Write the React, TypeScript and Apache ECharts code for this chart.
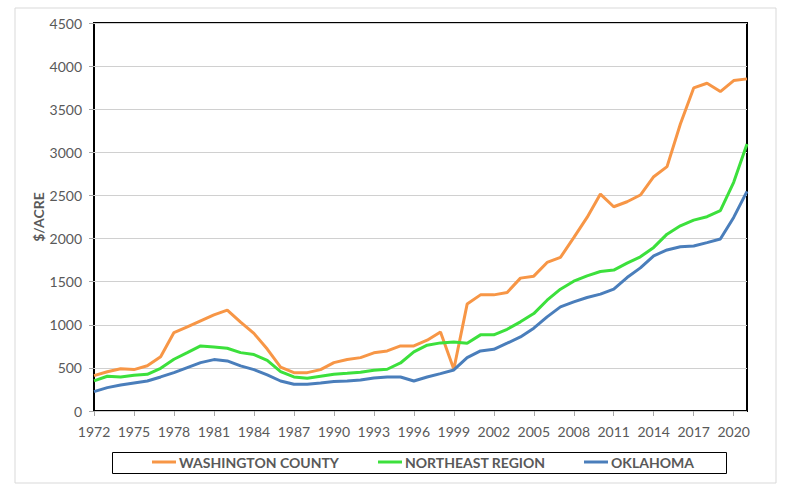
import React, { useEffect, useRef } from "react";
import * as echarts from "echarts";

const years: string[] = [];
for (let y = 1972; y <= 2021; y++) years.push(String(y));

const washington = [
  410, 455, 490, 480, 525, 630, 910, 975, 1045, 1115,
  1170, 1030, 900, 718, 510, 445, 445, 480, 561, 597,
  619, 675, 697, 755, 755, 821, 917, 484, 1240, 1347,
  1347, 1374, 1541, 1564, 1723, 1781, 2010, 2245, 2516, 2369,
  2427, 2505, 2717, 2834, 3329, 3747, 3801, 3705, 3832, 3852,
];

const northeast = [
  350, 403, 395, 414, 426, 495, 600, 677, 755, 743,
  728, 677, 655, 588, 457, 395, 379, 403, 426, 437,
  449, 472, 484, 557, 685, 763, 790, 801, 786, 883,
  883, 948, 1034, 1130, 1285, 1413, 1505, 1568, 1618, 1634,
  1715, 1788, 1897, 2051, 2148, 2214, 2253, 2323, 2652, 3097,
];

const oklahoma = [
  225, 271, 302, 325, 348, 395, 445, 503, 561, 596,
  581, 523, 480, 418, 348, 310, 310, 325, 341, 348,
  360, 383, 395, 395, 348, 395, 434, 476, 619, 697,
  716, 786, 859, 960, 1092, 1208, 1265, 1316, 1355, 1413,
  1548, 1660, 1800, 1868, 1904, 1914, 1953, 1994, 2245, 2547,
];

const seriesNames = ["WASHINGTON COUNTY", "NORTHEAST REGION", "OKLAHOMA"];
const seriesColors = ["#F79646", "#3CE03C", "#4A7EBB"];
const seriesData = [washington, northeast, oklahoma];
const legendLefts = [152, 378, 584];

export default function App() {
  const ref = useRef<HTMLDivElement>(null);
  useEffect(() => {
    if (!ref.current) return;
    const chart = echarts.init(ref.current, undefined, { renderer: "svg" });
    const font = "Lato, 'Open Sans', sans-serif";
    chart.setOption({
      animation: false,
      backgroundColor: "#ffffff",
      grid: {
        left: 94,
        top: 23,
        right: 46,
        bottom: 88,
        show: true,
        borderColor: "#000000",
        borderWidth: 2,
        backgroundColor: "transparent",
      },
      graphic: [
        {
          type: "rect",
          shape: { x: 15, y: 8, width: 761, height: 475 },
          style: { fill: "none", stroke: "#d9d9d9", lineWidth: 1 },
          silent: true,
          z: -1,
        },
        {
          type: "rect",
          shape: { x: 112.5, y: 452.5, width: 614, height: 21 },
          style: { fill: "none", stroke: "#000000", lineWidth: 1 },
          silent: true,
        },
      ],
      legend: seriesNames.map((n, i) => ({
        data: [{ name: n, icon: "rect" }],
        left: legendLefts[i],
        top: 455,
        padding: 0,
        itemWidth: 24,
        itemHeight: 3,
        itemGap: 0,
        itemStyle: { color: seriesColors[i], borderWidth: 0 },
        lineStyle: { width: 0 },
        textStyle: {
          fontFamily: font,
          fontWeight: "bold",
          fontSize: 14,
          color: "#595959",
          padding: [0, 0, 0, -2],
        },
      })),
      xAxis: {
        type: "category",
        data: years,
        boundaryGap: false,
        axisLine: { show: false },
        axisTick: {
          show: true,
          interval: 2,
          length: 5,
          lineStyle: { color: "#a6a6a6" },
        },
        axisLabel: {
          interval: 2,
          margin: 13,
          fontFamily: font,
          fontSize: 14,
          color: "#595959",
        },
        splitLine: { show: false },
      },
      yAxis: {
        type: "value",
        min: 0,
        max: 4500,
        interval: 500,
        name: "$/ACRE",
        nameLocation: "middle",
        nameGap: 49,
        nameMoveOverlap: false,
        nameRotate: 90,
        nameTextStyle: {
          fontFamily: font,
          fontWeight: "bold",
          fontSize: 14,
          color: "#595959",
        },
        axisLine: { show: false },
        axisTick: { show: true, length: 5, lineStyle: { color: "#a6a6a6" } },
        axisLabel: {
          margin: 12,
          fontFamily: font,
          fontSize: 14,
          color: "#595959",
          formatter: (v: number) => String(v),
        },
        splitLine: { show: true, lineStyle: { color: "#d0d0d0", width: 1 } },
      },
      series: seriesNames.map((n, i) => ({
        name: n,
        type: "line",
        data: seriesData[i],
        symbol: "none",
        color: seriesColors[i],
        lineStyle: { color: seriesColors[i], width: 3 },
      })),
    });
    return () => chart.dispose();
  }, []);
  return (
    <div
      ref={ref}
      style={{ position: "absolute", left: 0, top: 0, width: 793, height: 499 }}
    />
  );
}
